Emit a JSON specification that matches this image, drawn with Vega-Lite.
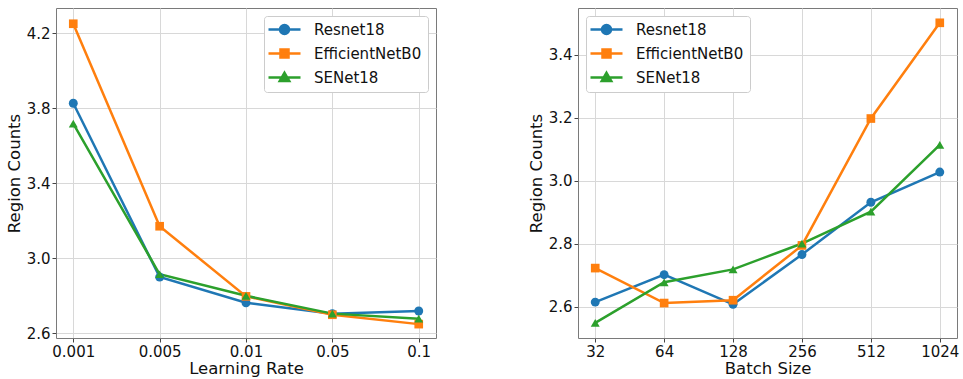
{
  "$schema": "https://vega.github.io/schema/vega-lite/v6.json",
  "padding": {"left": 5, "top": 7, "right": 0, "bottom": 0},
  "background": "white",
  "config": {
    "font": "DejaVu Sans",
    "view": {"stroke": "#7a7a7a", "strokeWidth": 1},
    "axis": {
      "domain": false,
      "grid": true,
      "gridColor": "#d8d8d8",
      "gridWidth": 1,
      "tickColor": "#444",
      "tickSize": 4,
      "labelFont": "DejaVu Sans",
      "labelFontSize": 15,
      "labelColor": "#111",
      "titleFont": "DejaVu Sans",
      "titleFontSize": 16.5,
      "titleFontWeight": "normal",
      "titleColor": "#111",
      "labelPadding": 2,
      "titlePadding": 1
    },
    "legend": {
      "labelFont": "DejaVu Sans",
      "labelFontSize": 15,
      "labelColor": "#111",
      "fillColor": "white",
      "strokeColor": "#cccccc",
      "cornerRadius": 3,
      "padding": 6,
      "rowPadding": 4,
      "symbolSize": 100,
      "labelOffset": 29,
      "title": null
    }
  },
  "datasets": {
    "lr": [
      {"lr": "0.001", "model": "Resnet18", "v": 3.827},
      {"lr": "0.005", "model": "Resnet18", "v": 2.900},
      {"lr": "0.01", "model": "Resnet18", "v": 2.763},
      {"lr": "0.05", "model": "Resnet18", "v": 2.705},
      {"lr": "0.1", "model": "Resnet18", "v": 2.719},
      {"lr": "0.001", "model": "EfficientNetB0", "v": 4.251},
      {"lr": "0.005", "model": "EfficientNetB0", "v": 3.171},
      {"lr": "0.01", "model": "EfficientNetB0", "v": 2.797},
      {"lr": "0.05", "model": "EfficientNetB0", "v": 2.699},
      {"lr": "0.1", "model": "EfficientNetB0", "v": 2.649},
      {"lr": "0.001", "model": "SENet18", "v": 3.718},
      {"lr": "0.005", "model": "SENet18", "v": 2.915},
      {"lr": "0.01", "model": "SENet18", "v": 2.800},
      {"lr": "0.05", "model": "SENet18", "v": 2.705},
      {"lr": "0.1", "model": "SENet18", "v": 2.678}
    ],
    "bs": [
      {"bs": "32", "model": "Resnet18", "v": 2.614},
      {"bs": "64", "model": "Resnet18", "v": 2.701},
      {"bs": "128", "model": "Resnet18", "v": 2.607},
      {"bs": "256", "model": "Resnet18", "v": 2.765},
      {"bs": "512", "model": "Resnet18", "v": 2.931},
      {"bs": "1024", "model": "Resnet18", "v": 3.027},
      {"bs": "32", "model": "EfficientNetB0", "v": 2.722},
      {"bs": "64", "model": "EfficientNetB0", "v": 2.611},
      {"bs": "128", "model": "EfficientNetB0", "v": 2.620},
      {"bs": "256", "model": "EfficientNetB0", "v": 2.794},
      {"bs": "512", "model": "EfficientNetB0", "v": 3.197},
      {"bs": "1024", "model": "EfficientNetB0", "v": 3.501},
      {"bs": "32", "model": "SENet18", "v": 2.548},
      {"bs": "64", "model": "SENet18", "v": 2.677},
      {"bs": "128", "model": "SENet18", "v": 2.718},
      {"bs": "256", "model": "SENet18", "v": 2.800},
      {"bs": "512", "model": "SENet18", "v": 2.901},
      {"bs": "1024", "model": "SENet18", "v": 3.113}
    ]
  },
  "spacing": 90,
  "resolve": {"scale": {"color": "independent"}, "legend": {"color": "independent"}},
  "hconcat": [
    {
      "width": 380,
      "height": 330,
      "data": {"name": "lr"},
      "encoding": {
        "x": {"field": "lr", "type": "ordinal", "sort": ["0.001", "0.005", "0.01", "0.05", "0.1"], "scale": {"type": "point", "padding": 0.2}, "axis": {"title": "Learning Rate", "labelAngle": 0}},
        "y": {"field": "v", "type": "quantitative", "scale": {"domain": [2.575, 4.335], "nice": false, "zero": false}, "axis": {"title": "Region Counts", "values": [2.6, 3.0, 3.4, 3.8, 4.2], "format": ".1f", "titlePadding": 4}},
        "color": {"field": "model", "type": "nominal", "scale": {"domain": ["Resnet18", "EfficientNetB0", "SENet18"], "range": ["#1f77b4", "#ff7f0e", "#2ca02c"]},
          "legend": {"orient": "top-right", "offset": 8,
            "encode": {"symbols": {"update": {
              "shape": {"signal": "datum.value === 'Resnet18' ? 'M-1.8,0L4.6,0M2.3,0A0.9,0.9,0,1,1,0.5,0A0.9,0.9,0,1,1,2.3,0Z' : datum.value === 'EfficientNetB0' ? 'M-1.8,0L4.6,0M0.6,-0.8L2.2,-0.8L2.2,0.8L0.6,0.8Z' : 'M-1.8,0L4.6,0M1.4,-0.95L2.35,0.7L0.45,0.7Z'"},
              "fill": {"signal": "datum.value === 'Resnet18' ? '#1f77b4' : datum.value === 'EfficientNetB0' ? '#ff7f0e' : '#2ca02c'"},
              "stroke": {"signal": "datum.value === 'Resnet18' ? '#1f77b4' : datum.value === 'EfficientNetB0' ? '#ff7f0e' : '#2ca02c'"},
              "strokeWidth": {"value": 2.5},
              "opacity": {"value": 1}
            }}}
          }}
      },
      "layer": [
        {"mark": {"type": "line", "strokeWidth": 2.5}},
        {"transform": [{"filter": "datum.model === 'Resnet18'"}], "mark": {"type": "point", "shape": "circle", "filled": true, "opacity": 1, "size": 80}},
        {"transform": [{"filter": "datum.model === 'EfficientNetB0'"}], "mark": {"type": "point", "shape": "square", "filled": true, "opacity": 1, "size": 75}},
        {"transform": [{"filter": "datum.model === 'SENet18'"}], "mark": {"type": "point", "shape": "triangle-up", "filled": true, "opacity": 1, "size": 80}}
      ]
    },
    {
      "width": 379,
      "height": 330,
      "data": {"name": "bs"},
      "encoding": {
        "x": {"field": "bs", "type": "ordinal", "sort": ["32", "64", "128", "256", "512", "1024"], "scale": {"type": "point", "padding": 0.25}, "axis": {"title": "Batch Size", "labelAngle": 0}},
        "y": {"field": "v", "type": "quantitative", "scale": {"domain": [2.5, 3.548], "nice": false, "zero": false}, "axis": {"title": "Region Counts", "values": [2.6, 2.8, 3.0, 3.2, 3.4], "format": ".1f", "titlePadding": 4}},
        "color": {"field": "model", "type": "nominal", "scale": {"domain": ["Resnet18", "EfficientNetB0", "SENet18"], "range": ["#1f77b4", "#ff7f0e", "#2ca02c"]},
          "legend": {"orient": "top-left", "offset": 8,
            "encode": {"symbols": {"update": {
              "shape": {"signal": "datum.value === 'Resnet18' ? 'M-1.8,0L4.6,0M2.3,0A0.9,0.9,0,1,1,0.5,0A0.9,0.9,0,1,1,2.3,0Z' : datum.value === 'EfficientNetB0' ? 'M-1.8,0L4.6,0M0.6,-0.8L2.2,-0.8L2.2,0.8L0.6,0.8Z' : 'M-1.8,0L4.6,0M1.4,-0.95L2.35,0.7L0.45,0.7Z'"},
              "fill": {"signal": "datum.value === 'Resnet18' ? '#1f77b4' : datum.value === 'EfficientNetB0' ? '#ff7f0e' : '#2ca02c'"},
              "stroke": {"signal": "datum.value === 'Resnet18' ? '#1f77b4' : datum.value === 'EfficientNetB0' ? '#ff7f0e' : '#2ca02c'"},
              "strokeWidth": {"value": 2.5},
              "opacity": {"value": 1}
            }}}
          }}
      },
      "layer": [
        {"mark": {"type": "line", "strokeWidth": 2.5}},
        {"transform": [{"filter": "datum.model === 'Resnet18'"}], "mark": {"type": "point", "shape": "circle", "filled": true, "opacity": 1, "size": 80}},
        {"transform": [{"filter": "datum.model === 'EfficientNetB0'"}], "mark": {"type": "point", "shape": "square", "filled": true, "opacity": 1, "size": 75}},
        {"transform": [{"filter": "datum.model === 'SENet18'"}], "mark": {"type": "point", "shape": "triangle-up", "filled": true, "opacity": 1, "size": 80}}
      ]
    }
  ]
}
